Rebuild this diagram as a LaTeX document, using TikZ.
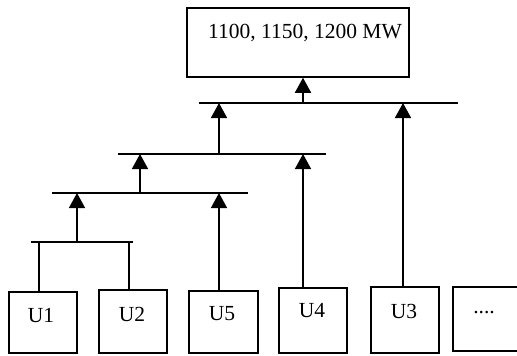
\documentclass[tikz,border=0pt]{standalone}
\usepackage{fontspec}
\setmainfont{Liberation Serif}
\usetikzlibrary{arrows.meta}
\begin{document}
\begin{tikzpicture}[x=1pt,y=-1pt,
  line width=1.5pt,
  txt/.style={font=\fontsize{21.5}{25}\selectfont,inner sep=0pt},
  arr/.style={-{Triangle[width=16pt,length=15pt]}},
  bus/.style={line width=1.5pt}]
\useasboundingbox (0,0) rectangle (517,356);
% top box
\node[draw,line width=1.5pt,minimum width=222pt,minimum height=69pt,inner sep=0pt] (top) at (298,42.5) {};
\node[txt] (toptxt) at (305,33) {1100, 1150, 1200 MW};
% unit boxes
\node[draw,minimum width=68pt,minimum height=61pt,inner sep=0pt] (u1) at (43,322.5) {};
\node[draw,minimum width=68pt,minimum height=63pt,inner sep=0pt] (u2) at (133,321.5) {};
\node[draw,minimum width=69pt,minimum height=62pt,inner sep=0pt] (u5) at (223.5,322) {};
\node[draw,minimum width=68pt,minimum height=65pt,inner sep=0pt] (u4) at (313,320.5) {};
\node[draw,minimum width=68pt,minimum height=66pt,inner sep=0pt] (u3) at (405,320) {};
\node[draw,minimum width=68pt,minimum height=64pt,inner sep=0pt] (ud) at (487,319) {};
\node[txt] (t1) at (41,316) {U1};
\node[txt] (t2) at (132,314) {U2};
\node[txt] (t5) at (222,314) {U5};
\node[txt] (t4) at (312,311) {U4};
\node[txt] (t3) at (404,311) {U3};
\node[txt] (td) at (484,313) {....};
% buses
\coordinate (b1l) at (199,103); \coordinate (b1r) at (458,103);
\coordinate (b2l) at (118,154); \coordinate (b2r) at (326,154);
\coordinate (b3l) at (52,193);  \coordinate (b3r) at (248,193);
\coordinate (b4l) at (31,242);  \coordinate (b4r) at (133,242);
\draw[bus] (b1l) -- (b1r);
\draw[bus] (b2l) -- (b2r);
\draw[bus] (b3l) -- (b3r);
\draw[bus] (b4l) -- (b4r);
% bus connection points
\coordinate (b1up) at (303,103);
\coordinate (b1a) at (219,103); \coordinate (b1b) at (403,103);
\coordinate (b2up) at (219,154);
\coordinate (b2a) at (140,154); \coordinate (b2b) at (303,154);
\coordinate (b3up) at (140,193);
\coordinate (b3a) at (77,193); \coordinate (b3b) at (219,193);
\coordinate (b4up) at (77,242);
\coordinate (b4a) at (39,242); \coordinate (b4b) at (129,242);
% connectors
\draw[arr] (b1up) -- (b1up |- top.south);
\draw[arr] (b2up) -- (b1a);
\draw[arr] (b1b |- u3.north) -- (b1b);
\draw[arr] (b3up) -- (b2a);
\draw[arr] (b2b |- u4.north) -- (b2b);
\draw[arr] (b4up) -- (b3a);
\draw[arr] (b3b |- u5.north) -- (b3b);
\draw (b4a) -- (b4a |- u1.north);
\draw (b4b) -- (b4b |- u2.north);
\end{tikzpicture}
\end{document}
